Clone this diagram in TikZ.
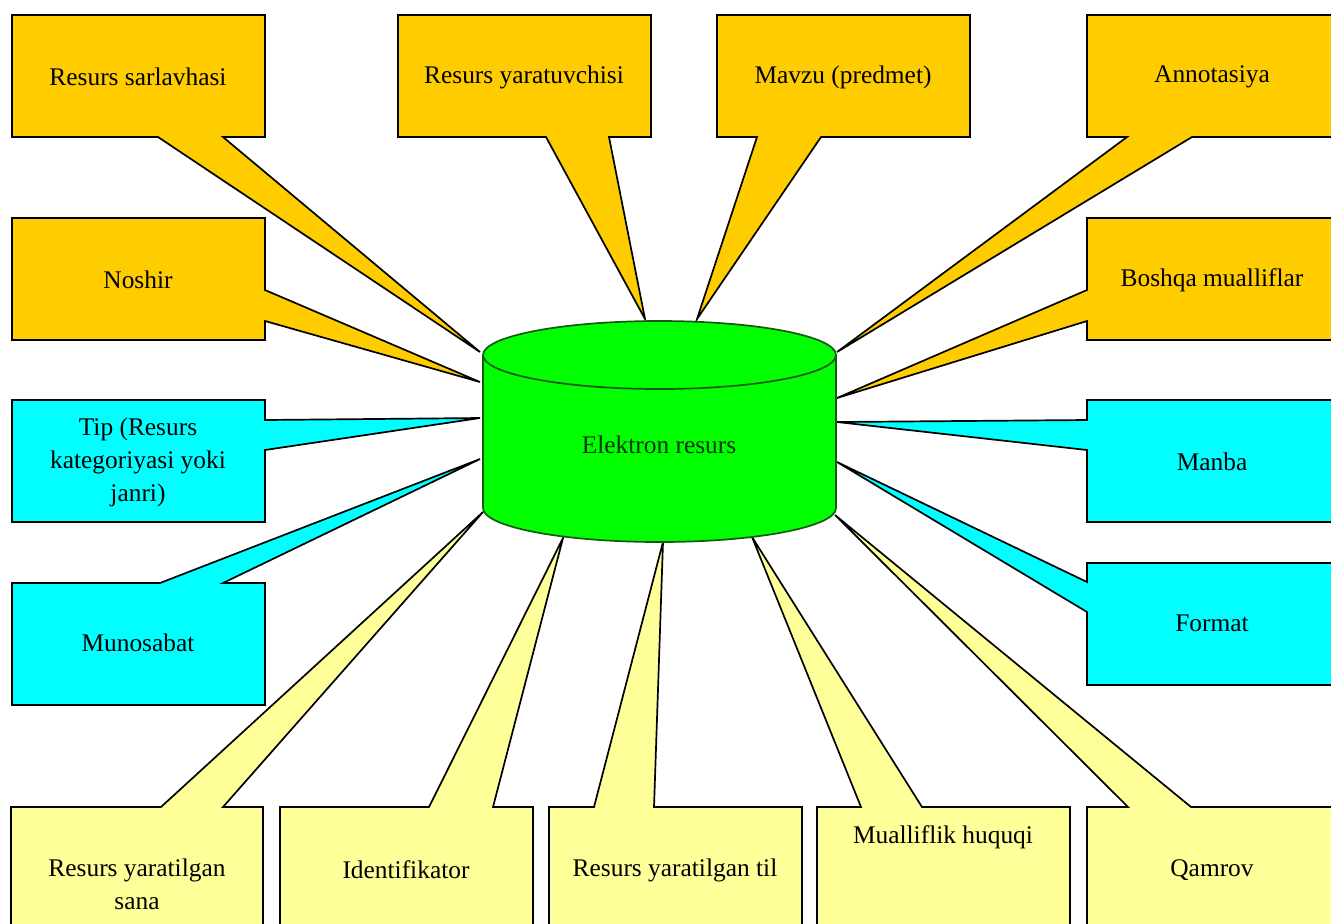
\documentclass[tikz,border=0pt]{standalone}
\usepackage{fontspec}
\setmainfont{Liberation Serif}
\definecolor{cgold}{RGB}{255,204,0}
\definecolor{ccyan}{RGB}{0,255,255}
\definecolor{clyellow}{RGB}{255,255,153}
\definecolor{cgreen}{RGB}{0,255,0}
\definecolor{cdkgreen}{RGB}{20,90,20}
\tikzset{
  callgold/.style={fill=cgold, draw=black, line width=0.85pt, line join=miter},
  callcyan/.style={fill=ccyan, draw=black, line width=0.85pt, line join=miter},
  callyel/.style={fill=clyellow, draw=black, line width=0.85pt, line join=miter},
  lbl/.style={font=\fontsize{12.7}{16.5}\selectfont, align=center, inner sep=0pt, text=black},
}
\begin{document}
\begin{tikzpicture}[x=0.5pt, y=-0.5pt]
\useasboundingbox (0,0) rectangle (1331,923);
\clip (0,0) rectangle (1331,923);
\fill[white] (0,0) rectangle (1331,923);
% tips on the cylinder
\coordinate (t1) at (480,352);
\coordinate (t2) at (645,319);
\coordinate (t3) at (697,319);
\coordinate (t4) at (837,352);
\coordinate (t5) at (480,382);
\coordinate (t6) at (837,398);
\coordinate (t7) at (480,418);
\coordinate (t8) at (480,459);
\coordinate (t9) at (837,422);
\coordinate (t10) at (837,462);
\coordinate (t11) at (483,512);
\coordinate (t12) at (563,538);
\coordinate (t13) at (663,542);
\coordinate (t14) at (752,537);
\coordinate (t15) at (835,515);
% callouts
\draw[callgold] (12,15) -- (265,15) -- (265,137) -- (223,137) -- (t1) -- (158,137) -- (12,137) -- cycle;
\draw[callgold] (398,15) -- (651,15) -- (651,137) -- (609,137) -- (t2) -- (546,137) -- (398,137) -- cycle;
\draw[callgold] (717,15) -- (970,15) -- (970,137) -- (821,137) -- (t3) -- (757,137) -- (717,137) -- cycle;
\draw[callgold] (1087,15) -- (1345,15) -- (1345,137) -- (1192,137) -- (t4) -- (1127,137) -- (1087,137) -- cycle;
\draw[callgold] (12,218) -- (265,218) -- (265,290) -- (t5) -- (265,321) -- (265,340) -- (12,340) -- cycle;
\draw[callgold] (1087,218) -- (1345,218) -- (1345,340) -- (1087,340) -- (1087,321) -- (t6) -- (1087,290) -- cycle;
\draw[callcyan] (12,400) -- (265,400) -- (265,420) -- (t7) -- (265,450) -- (265,522) -- (12,522) -- cycle;
\draw[callcyan] (12,583) -- (160,583) -- (t8) -- (223,583) -- (265,583) -- (265,705) -- (12,705) -- cycle;
\draw[callcyan] (1087,400) -- (1345,400) -- (1345,522) -- (1087,522) -- (1087,450) -- (t9) -- (1087,420) -- cycle;
\draw[callcyan] (1087,563) -- (1345,563) -- (1345,685) -- (1087,685) -- (1087,612) -- (t10) -- (1087,582) -- cycle;
\draw[callyel] (11,807) -- (161,807) -- (t11) -- (223,807) -- (263,807) -- (263,935) -- (11,935) -- cycle;
\draw[callyel] (280,807) -- (429,807) -- (t12) -- (493,807) -- (533,807) -- (533,935) -- (280,935) -- cycle;
\draw[callyel] (549,807) -- (594,807) -- (t13) -- (654,807) -- (802,807) -- (802,935) -- (549,935) -- cycle;
\draw[callyel] (817,807) -- (861,807) -- (t14) -- (922,807) -- (1070,807) -- (1070,935) -- (817,935) -- cycle;
\draw[callyel] (1087,807) -- (1128,807) -- (t15) -- (1191,807) -- (1345,807) -- (1345,935) -- (1087,935) -- cycle;
% cylinder
\fill[cgreen] (483,355) -- (483,508) arc[start angle=180, end angle=0, x radius=176.5, y radius=34] -- (836,355) arc[start angle=0, end angle=180, x radius=176.5, y radius=34] -- cycle;
\draw[cdkgreen, line width=0.85pt] (483,355) -- (483,508) arc[start angle=180, end angle=0, x radius=176.5, y radius=34] -- (836,355);
\draw[cdkgreen, line width=0.85pt, fill=cgreen] (659.5,355) ellipse[x radius=176.5, y radius=34];
\node[lbl, text=black!80!green] (er) at (659,445) {Elektron resurs};
% labels
\node[lbl] (sarl) at (138,77) {Resurs sarlavhasi};
\node[lbl] (yarat) at (524,77) {Resurs yaratuvchisi};
\node[lbl] (mavzu) at (843,77) {Mavzu (predmet)};
\node[lbl] (annot) at (1212,77) {Annotasiya};
\node[lbl] (noshir) at (138,280) {Noshir};
\node[lbl] (boshqa) at (1212,280) {Boshqa mualliflar};
\node[lbl] (tip) at (138,462) {Tip (Resurs\\kategoriyasi yoki\\janri)};
\node[lbl] (muno) at (138,643) {Munosabat};
\node[lbl] (manba) at (1212,462) {Manba};
\node[lbl] (format) at (1212,623) {Format};
\node[lbl] (sana) at (137,884) {Resurs yaratilgan\\sana};
\node[lbl] (ident) at (406,870) {Identifikator};
\node[lbl] (til) at (675,870) {Resurs yaratilgan til};
\node[lbl] (mual) at (943,837) {Mualliflik huquqi};
\node[lbl] (qamrov) at (1212,870) {Qamrov};
\end{tikzpicture}
\end{document}
